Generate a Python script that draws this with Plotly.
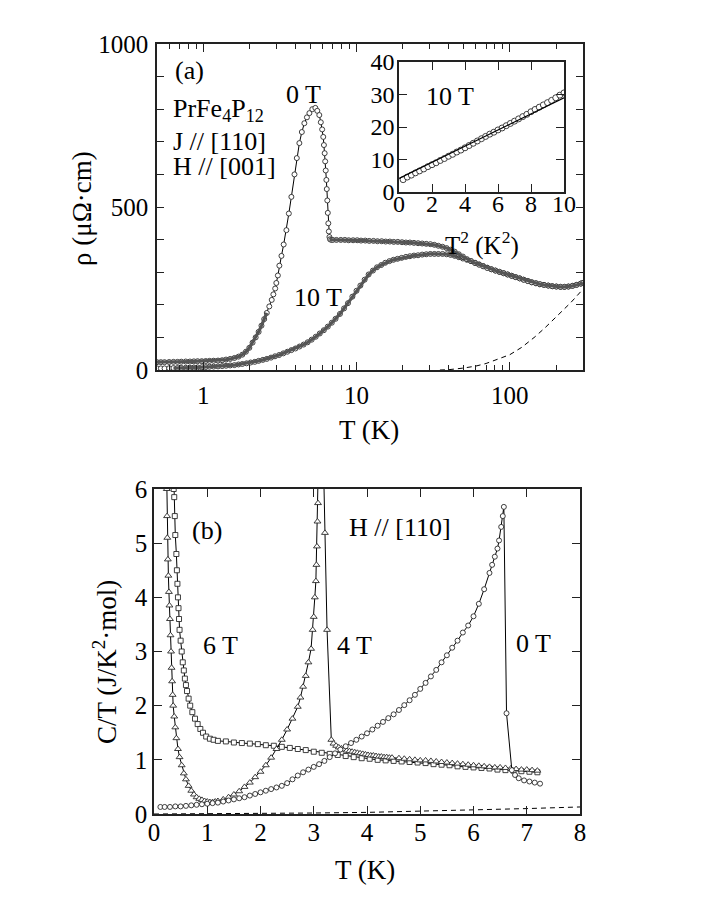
import plotly.graph_objects as go

# ---- panel (a): resistivity, 0 T and 10 T ----
t_0T = [0.50, 0.53, 0.56, 0.60, 0.64, 0.68, 0.72, 0.77, 0.82, 0.87,
        0.92, 0.98, 1.04, 1.10, 1.17, 1.25, 1.33, 1.41, 1.50, 1.60,
        1.70, 1.80, 1.90, 2.00, 2.10, 2.20, 2.30, 2.40, 2.50, 2.60,
        2.70, 2.80, 2.87, 2.95, 3.00, 3.07, 3.14, 3.24, 3.35, 3.49,
        3.62, 3.76, 3.94, 4.08, 4.24, 4.40, 4.57, 4.75, 4.93, 5.15,
        5.39, 5.55, 5.72, 5.85, 5.97, 6.07, 6.13, 6.20, 6.25, 6.30,
        6.36, 6.40, 6.45, 6.50, 6.55, 6.60, 6.66, 6.72, 6.85, 7.0,
        7.4, 7.9, 8.4, 8.9, 9.5, 10.1, 10.7, 11.4, 12.1, 12.9,
        13.7, 14.6, 15.5, 16.5, 17.5, 18.6, 19.8, 21.0, 22.3, 23.7,
        25.2, 26.8, 28.5, 30.3, 32.2, 34.2, 36.4, 38.7, 41.1, 43.7,
        46.5, 49.4, 52.5, 55.8, 59.3, 63, 67, 71.2, 75.7, 80.5,
        85.6, 91, 96.7, 102.8, 109, 116, 123, 131, 139, 148,
        157, 167, 178, 189, 201, 214, 227, 241, 256, 272,
        290, 300]
rho_0T = [24, 24, 24, 24.5, 25, 25, 25.5, 26, 26, 26.5,
          27, 27, 27.5, 28, 28.5, 29, 30, 32, 34, 37,
          41, 47, 56, 68, 84, 100, 117, 136, 156, 175,
          195, 215, 232, 250, 267, 290, 320, 350, 385, 429,
          480, 531, 600, 650, 696, 730, 757, 775, 788, 800,
          804, 795, 782, 760, 738, 715, 690, 665, 640, 612,
          583, 555, 520, 482, 450, 425, 408, 401, 399, 399,
          399, 399, 399, 398, 398, 398, 397, 397, 396, 396,
          395, 395, 394, 394, 393, 393, 392, 391, 391, 390,
          389, 388, 387, 386, 384, 381, 378, 374, 369, 363,
          355, 348, 340, 334, 328, 323, 318, 313, 309, 305,
          301, 297, 293, 289, 285, 281, 277, 273, 269, 266,
          263, 261, 259, 257, 256, 255, 255, 256, 258, 261,
          265, 267]

t_10T = [0.50, 0.53, 0.56, 0.60, 0.64, 0.68, 0.72, 0.77, 0.82, 0.87,
         0.92, 0.98, 1.04, 1.10, 1.17, 1.25, 1.33, 1.41, 1.50, 1.60,
         1.70, 1.80, 1.92, 2.04, 2.17, 2.30, 2.45, 2.60, 2.77, 2.94,
         3.13, 3.33, 3.54, 3.76, 4.00, 4.25, 4.52, 4.80, 5.10, 5.42,
         5.76, 6.12, 6.50, 6.9, 7.3, 7.8, 8.3, 8.8, 9.4, 10.0,
         10.6, 11.3, 12.0, 12.8, 13.6, 14.5, 15.4, 16.4, 17.4, 18.5,
         19.7, 21, 22.3, 23.7, 25.2, 26.8, 28.5, 30.3, 32.2, 34.2,
         36.4, 38.7, 41.1, 43.7, 46.5, 49.4, 52.5, 55.8, 59.3, 63,
         67, 71.2, 75.7, 80.5, 85.6, 91, 96.7, 102.8, 109, 116,
         123, 131, 139, 148, 157, 167, 178, 189, 201, 214,
         227, 241, 256, 272, 290, 300]
rho_10T = [5, 5, 5, 5.5, 6, 6, 6.5, 7, 7, 7.5,
           8, 8.5, 9, 10, 10.5, 11, 12, 13, 14, 15,
           17, 18.5, 20.5, 23, 25, 28, 31, 34, 38, 42,
           46, 51, 56, 61, 66, 72, 78, 85, 93, 102,
           112, 122, 133, 145, 157, 172, 189, 205, 225, 243,
           259, 277, 293, 305, 315, 322, 329, 334, 338, 341,
           344, 347, 349, 351, 352, 354, 355, 356, 356, 356,
           356, 355, 353, 350, 346, 342, 338, 334, 329, 324,
           319, 314, 309, 305, 301, 297, 293, 289, 285, 281,
           277, 273, 269, 266, 263, 261, 259, 257, 256, 255,
           255, 256, 258, 261, 265, 267]

t_phonon = [35, 40, 50, 60, 70, 80, 100, 120, 146, 170, 200, 250, 300]
rho_phonon = [0, 1, 6, 12, 20, 30, 47, 70, 102, 130, 163, 207, 248]

# inset: 10 T resistivity against T^2
t2_inset = [0.25, 0.5, 0.75, 1.0, 1.25, 1.5, 1.75, 2.0, 2.25, 2.5,
            2.75, 3.0, 3.25, 3.5, 3.75, 4.0, 4.25, 4.5, 4.75, 5.0,
            5.25, 5.5, 5.75, 6.0, 6.25, 6.5, 6.75, 7.0, 7.25, 7.5,
            7.75, 8.0, 8.25, 8.5, 8.75, 9.0, 9.25, 9.5, 9.75, 10.0]
rho_inset = [3.8, 4.6, 5.2, 5.9, 6.5, 7.1, 7.8, 8.4, 9.0, 9.7,
             10.3, 11.0, 11.6, 12.3, 12.9, 13.6, 14.3, 15.0, 15.7, 16.4,
             17.1, 17.8, 18.4, 19.1, 19.7, 20.4, 21.1, 21.8, 22.5, 23.2,
             23.9, 24.7, 25.4, 26.1, 26.8, 27.5, 28.2, 29.0, 29.8, 30.5]
fit_x = [0, 10]
fit_y = [4.2, 29.0]

# ---- panel (b): specific heat C/T ----
t_c0 = [0.12, 0.2, 0.3, 0.4, 0.5, 0.6, 0.7, 0.8, 0.9,
        1.0, 1.1, 1.2, 1.3, 1.4, 1.5, 1.6, 1.7, 1.8, 1.9,
        2.0, 2.1, 2.2, 2.3, 2.4, 2.5, 2.6, 2.7, 2.8, 2.9,
        3.0, 3.1, 3.2, 3.3, 3.4, 3.5, 3.6, 3.7, 3.8, 3.9,
        4.0, 4.1, 4.2, 4.3, 4.4, 4.5, 4.6, 4.7, 4.8, 4.9,
        5.0, 5.1, 5.2, 5.3, 5.4, 5.5, 5.6, 5.7, 5.8, 5.9,
        6.0, 6.1, 6.2, 6.3, 6.35, 6.4, 6.45, 6.48, 6.52, 6.55, 6.57,
        6.62, 6.72, 6.78, 6.85, 6.95, 7.05, 7.15, 7.25]
c_0T = [0.13, 0.13, 0.13, 0.14, 0.14, 0.15, 0.16, 0.17, 0.18,
        0.19, 0.20, 0.21, 0.23, 0.25, 0.27, 0.29, 0.31, 0.34, 0.37,
        0.40, 0.43, 0.46, 0.49, 0.52, 0.57, 0.64, 0.71, 0.77, 0.82,
        0.87, 0.92, 0.98, 1.05, 1.12, 1.19, 1.25, 1.31, 1.37, 1.43,
        1.49, 1.56, 1.63, 1.70, 1.77, 1.84, 1.92, 2.01, 2.10, 2.20,
        2.31, 2.42, 2.54, 2.66, 2.80, 2.93, 3.07, 3.20, 3.35, 3.48,
        3.65, 3.88, 4.15, 4.45, 4.6, 4.75, 4.9, 5.05, 5.3, 5.5, 5.67,
        1.86, 0.81, 0.72, 0.66, 0.62, 0.60, 0.58, 0.56]

t_c4 = [0.225, 0.24, 0.245, 0.25, 0.26, 0.27, 0.28, 0.29, 0.30, 0.31,
        0.32, 0.33, 0.34, 0.35, 0.36, 0.38, 0.40, 0.42, 0.45, 0.48,
        0.52, 0.56, 0.60, 0.65, 0.70, 0.75, 0.80, 0.85, 0.90, 0.95,
        1.0, 1.05, 1.1, 1.15, 1.2, 1.3, 1.4, 1.5, 1.6, 1.7,
        1.8, 1.9, 2.0, 2.1, 2.2, 2.3, 2.4, 2.5, 2.6, 2.7,
        2.75, 2.8, 2.85, 2.9, 2.95, 2.98, 3.0, 3.02, 3.04, 3.05,
        3.06, 3.07, 3.08, 3.10, 3.13, 3.18, 3.21, 3.25, 3.33, 3.37,
        3.42, 3.47, 3.52, 3.57, 3.62, 3.67, 3.72, 3.77, 3.82, 3.87,
        3.92, 3.97, 4.02, 4.07, 4.12, 4.17, 4.22, 4.27, 4.32, 4.37,
        4.42, 4.47, 4.6, 4.7, 4.8, 4.9, 5.0, 5.1, 5.2, 5.3,
        5.4, 5.5, 5.6, 5.7, 5.8, 5.9, 6.0, 6.1, 6.2, 6.3,
        6.4, 6.5, 6.6, 6.7, 6.8, 6.9, 7.0, 7.1, 7.2]
c_4T = [7.0, 6.0, 5.5, 5.1, 4.7, 4.4, 4.1, 3.85, 3.6, 3.3,
        3.0, 2.7, 2.45, 2.2, 2.0, 1.8, 1.6, 1.4, 1.2, 1.05,
        0.9, 0.75, 0.64, 0.52, 0.43, 0.36, 0.31, 0.28, 0.26, 0.24,
        0.23, 0.22, 0.22, 0.23, 0.24, 0.27, 0.31, 0.36, 0.42, 0.5,
        0.58, 0.68, 0.78, 0.9, 1.04, 1.2, 1.37, 1.56, 1.76, 1.98,
        2.15, 2.35, 2.55, 2.8, 3.05, 3.4, 3.64, 4.0, 4.3, 4.6,
        4.94, 5.4, 5.74, 7.2, 8.5, 6.6, 5.19, 3.4, 1.37, 1.3,
        1.26, 1.23, 1.21, 1.19, 1.17, 1.16, 1.15, 1.14, 1.13, 1.12,
        1.11, 1.1, 1.09, 1.08, 1.08, 1.07, 1.06, 1.06, 1.05, 1.05,
        1.04, 1.04, 1.03, 1.02, 1.01, 1.0, 0.99, 0.99, 0.98, 0.97,
        0.96, 0.95, 0.94, 0.93, 0.92, 0.91, 0.9, 0.89, 0.88, 0.87,
        0.86, 0.86, 0.85, 0.84, 0.83, 0.82, 0.82, 0.81, 0.8]

t_c6 = [0.35, 0.37, 0.38, 0.39, 0.40, 0.42, 0.43, 0.44, 0.45, 0.46,
        0.47, 0.48, 0.50, 0.52, 0.54, 0.56, 0.58, 0.60, 0.62, 0.65,
        0.68, 0.72, 0.77, 0.82, 0.87, 0.92, 0.98, 1.05, 1.12, 1.2,
        1.35, 1.5, 1.65, 1.8, 1.95, 2.1, 2.25, 2.4, 2.55, 2.7,
        2.85, 3.0, 3.15, 3.3, 3.45, 3.6, 3.75, 3.9, 4.05, 4.2,
        4.35, 4.5, 4.65, 4.8, 4.95, 5.1, 5.25, 5.4, 5.55, 5.7,
        5.85, 6.0, 6.15, 6.3, 6.45, 6.6, 6.75, 6.9, 7.05, 7.2]
c_6T = [7.0, 6.0, 5.85, 5.5, 5.15, 4.8, 4.5, 4.25, 4.0, 3.8,
        3.6, 3.4, 3.2, 3.0, 2.8, 2.65, 2.5, 2.38, 2.27, 2.13,
        2.0, 1.88, 1.76, 1.66, 1.57, 1.5, 1.43, 1.39, 1.37, 1.35,
        1.34, 1.32, 1.31, 1.3, 1.29, 1.27, 1.26, 1.24, 1.22, 1.2,
        1.18, 1.15, 1.13, 1.11, 1.09, 1.07, 1.05, 1.03, 1.02, 1.0,
        0.99, 0.98, 0.97, 0.96, 0.95, 0.94, 0.92, 0.91, 0.9, 0.88,
        0.87, 0.86, 0.85, 0.84, 0.82, 0.81, 0.8, 0.79, 0.78, 0.77]

t_cph = [0, 1, 2, 3, 4, 5, 6, 7, 8]
c_ph = [0, 0.002, 0.008, 0.018, 0.03, 0.05, 0.07, 0.1, 0.13]

for a, b in [(t_0T, rho_0T), (t_10T, rho_10T), (t2_inset, rho_inset),
             (t_c0, c_0T), (t_c4, c_4T), (t_c6, c_6T)]:
    assert len(a) == len(b), (len(a), len(b))

W, H = 706, 913
FONT = 'Liberation Serif'


def px(x):
    # window pixel -> paper fraction
    return x / W


def py(y):
    return 1 - y / H


def open_marker(symbol, size):
    return dict(symbol=symbol, size=size, color='white',
                line=dict(color='#2a2a2a', width=0.9))


line_k = dict(color='black', width=1)
band = dict(color='#555', width=3.2)
dash_k = dict(color='black', width=1, dash='5px,4px')

# dense stretches of the 0 T curve look like a solid grey band
dense_lo = slice(0, 30)
dense_hi = slice(67, None)

traces = [
    go.Scatter(x=t_phonon, y=rho_phonon, mode='lines', line=dash_k,
               xaxis='x', yaxis='y'),
    go.Scatter(x=t_10T, y=rho_10T, mode='lines+markers', line=line_k,
               marker=open_marker('circle', 5), xaxis='x', yaxis='y'),
    go.Scatter(x=t_10T[4:], y=rho_10T[4:], mode='lines', line=band,
               xaxis='x', yaxis='y'),
    go.Scatter(x=t_0T, y=rho_0T, mode='lines+markers', line=line_k,
               marker=open_marker('circle', 5), xaxis='x', yaxis='y'),
    go.Scatter(x=t_0T[dense_lo], y=rho_0T[dense_lo], mode='lines', line=band,
               xaxis='x', yaxis='y'),
    go.Scatter(x=t_0T[dense_hi], y=rho_0T[dense_hi], mode='lines', line=band,
               xaxis='x', yaxis='y'),
    go.Scatter(x=t2_inset, y=rho_inset, mode='markers',
               marker=open_marker('circle', 6), xaxis='x3', yaxis='y3'),
    go.Scatter(x=fit_x, y=fit_y, mode='lines', line=dict(color='black', width=1.3),
               xaxis='x3', yaxis='y3'),
    go.Scatter(x=t_cph, y=c_ph, mode='lines', line=dash_k,
               xaxis='x2', yaxis='y2'),
    go.Scatter(x=t_c6, y=c_6T, mode='lines+markers', line=line_k,
               marker=open_marker('square', 5), xaxis='x2', yaxis='y2'),
    go.Scatter(x=t_c4, y=c_4T, mode='lines+markers', line=line_k,
               marker=open_marker('triangle-up', 6), xaxis='x2', yaxis='y2'),
    go.Scatter(x=t_c0, y=c_0T, mode='lines+markers', line=line_k,
               marker=open_marker('circle', 5), xaxis='x2', yaxis='y2'),
]

fig = go.Figure(data=traces)

frame = dict(showline=True, linecolor='#222', linewidth=1.5, mirror='ticks',
             ticks='inside', tickcolor='#222', tickwidth=1.2, showgrid=False,
             zeroline=False, automargin=False,
             tickfont=dict(family=FONT, size=25, color='black'))

log_minor = [0.5, 0.6, 0.7, 0.8, 0.9, 2, 3, 4, 5, 6, 7, 8, 9,
             20, 30, 40, 50, 60, 70, 80, 90, 200, 300]

fig.update_layout(
    width=W, height=H, margin=dict(l=0, r=0, t=0, b=0, autoexpand=False),
    paper_bgcolor='white', plot_bgcolor='white', showlegend=False,
    font=dict(family=FONT, color='black'),
    xaxis=dict(frame, type='log', range=[-0.30103, 2.4771],
               domain=[px(157), px(583)], anchor='y',
               tickmode='array', tickvals=[1, 10, 100], ticktext=['1', '10', '100'],
               ticklen=8, ticklabelstandoff=2,
               minor=dict(tickmode='array', tickvals=log_minor, ticks='inside',
                          ticklen=5, tickcolor='#222', tickwidth=1, showgrid=False)),
    yaxis=dict(frame, range=[0, 1000], domain=[py(370), py(44)], anchor='x',
               tickmode='array', tickvals=[0, 500, 1000], ticklen=7,
               ticklabelstandoff=2,
               minor=dict(tickmode='array', tickvals=[100, 200, 300, 400, 600, 700, 800, 900],
                          ticks='inside', ticklen=7, tickcolor='#222', tickwidth=1.2,
                          showgrid=False)),
    xaxis2=dict(frame, range=[0, 8], domain=[px(154), px(580)], anchor='y2',
                dtick=1, ticklen=8, ticklabelstandoff=-5),
    yaxis2=dict(frame, range=[0, 6], domain=[py(814), py(489)], anchor='x2',
                dtick=1, ticklen=8, ticklabelstandoff=0),
    xaxis3=dict(frame, range=[0, 10], domain=[px(399), px(564)], anchor='y3',
                dtick=2, ticklen=8, ticklabelstandoff=-11,
                tickfont=dict(family=FONT, size=24, color='black')),
    yaxis3=dict(frame, range=[0, 40], domain=[py(192), py(62)], anchor='x3',
                dtick=10, ticklen=8, ticklabelstandoff=-2,
                tickfont=dict(family=FONT, size=24, color='black')),
)


def label(text, x, y, size=26, xanchor='center', angle=0):
    fig.add_annotation(text=text, x=px(x), y=py(y), xref='paper', yref='paper',
                       xanchor=xanchor, yanchor='middle', showarrow=False,
                       textangle=angle, font=dict(family=FONT, size=size, color='black'))


# panel (a) texts
label('(a)', 190, 70)
label('PrFe<sub>4</sub>P<sub>12</sub>', 171, 110, xanchor='left')
label('J // [110]', 171, 141, xanchor='left')
label('H // [001]', 171, 166, xanchor='left')
label('0 T', 303, 95)
label('10 T', 318, 297)
label('10 T', 450, 97)
label('T<sup>2</sup> (K<sup>2</sup>)', 482, 243, size=25)
label('T (K)', 369, 430, size=27)
label('ρ (μΩ·cm)', 82, 209, size=27, angle=-90)

# panel (b) texts
label('(b)', 207, 530)
label('6 T', 220, 645)
label('4 T', 354, 645)
label('0 T', 533, 643)
label('H // [110]', 400, 527)
label('T (K)', 365, 870, size=27)
label('C/T (J/K<sup>2</sup>·mol)', 105, 662, size=27, angle=-90)

# the default page adds an 8 px body margin; drop it so the figure fills the window
fig.write_html('out.html', config={'displayModeBar': False},
               post_script="document.body.style.margin='0px';")
